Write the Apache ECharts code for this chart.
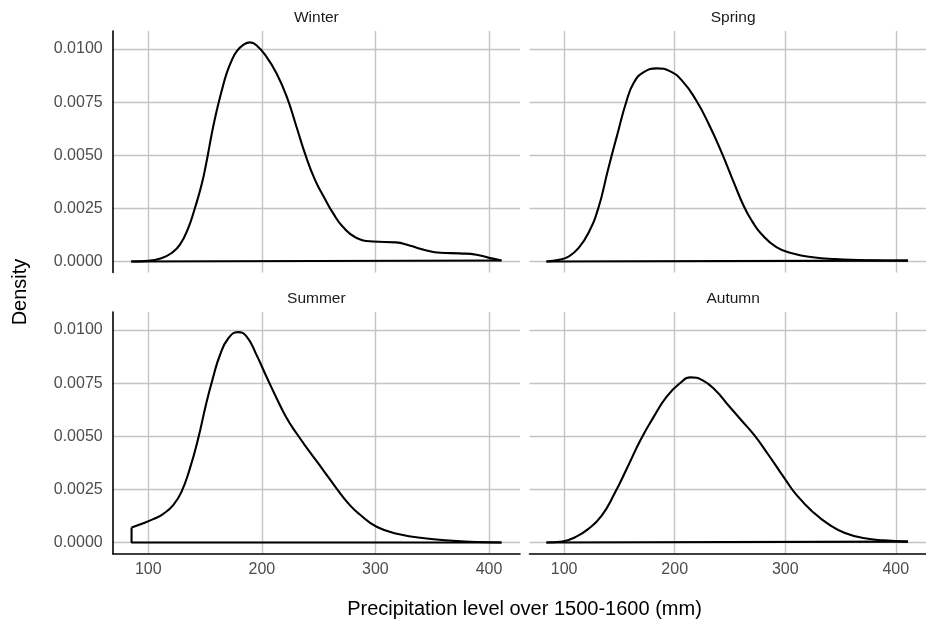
<!DOCTYPE html>
<html>
<head>
<meta charset="utf-8">
<script src="https://cdn.jsdelivr.net/npm/echarts@6/dist/echarts.min.js"></script>
<style>
html,body{margin:0;padding:0;background:#fff;}
#chart{width:926px;height:626px;}
</style>
</head>
<body>
<div id="chart"></div>
<script>
// ---- data ----
const seasons = ['Winter', 'Spring', 'Summer', 'Autumn'];

const winterX = [85, 100, 111.8, 120.6, 127.9, 135.2, 141.1, 147, 151.4, 155.8, 160.2, 164.6, 169, 173.4, 178, 184, 189.5, 195, 204, 213, 222, 230.5, 239, 247, 255, 263, 271.5, 283, 298, 318, 330, 345, 357, 374, 389, 400, 411];
const winterDensity = [0, 0.00003, 0.00016, 0.00040, 0.00079, 0.00157, 0.00252, 0.00362, 0.00472, 0.00598, 0.00708, 0.00802, 0.00885, 0.00945, 0.00990, 0.01020, 0.01031, 0.01019, 0.00964, 0.00885, 0.00775, 0.00634, 0.00492, 0.00382, 0.00300, 0.00225, 0.00162, 0.00112, 0.00094, 0.00090, 0.00075, 0.00052, 0.00041, 0.00038, 0.00032, 0.00017, 0.00005];

const springX = [84, 95.6, 104.4, 113, 122, 131, 139.7, 148.5, 156, 163, 172, 184, 195.6, 207, 219, 231, 242.6, 254, 263, 270, 278, 292, 307, 325, 345, 366, 390, 411];
const springDensity = [0, 0.00008, 0.00024, 0.00063, 0.00134, 0.00252, 0.00432, 0.00605, 0.00747, 0.00841, 0.00891, 0.00909, 0.00896, 0.00849, 0.00762, 0.00645, 0.00511, 0.00365, 0.00255, 0.00190, 0.00132, 0.00068, 0.00038, 0.00020, 0.00011, 0.00007, 0.00005, 0.00004];

const summerX = [85.3, 95.6, 104.4, 113, 122, 129.3, 136.7, 144, 151.3, 157, 163, 170.4, 179, 186.5, 195.3, 204, 213, 221.7, 230.5, 242, 254, 265.7, 277.5, 286, 301, 321, 345, 368, 389, 411];
const summerDensity = [0.00071, 0.00091, 0.00110, 0.00134, 0.00176, 0.00239, 0.00349, 0.00490, 0.00660, 0.00775, 0.00880, 0.00960, 0.00990, 0.00970, 0.00883, 0.00781, 0.00679, 0.00587, 0.00514, 0.00428, 0.00341, 0.00255, 0.00176, 0.00133, 0.00074, 0.00039, 0.00019, 0.00008, 0.00002, 0];

const autumnX = [84, 98.5, 110, 122, 134, 145.6, 157.4, 169, 181, 192.6, 204.4, 214.7, 225, 236.8, 248.5, 260.3, 272, 283.8, 295, 300, 310, 324.7, 339.4, 354, 372, 389, 411];
const autumnDensity = [0, 0.00005, 0.00025, 0.00064, 0.00127, 0.00230, 0.00355, 0.00481, 0.00591, 0.00685, 0.00748, 0.00777, 0.00764, 0.00717, 0.00646, 0.00575, 0.00505, 0.00420, 0.00335, 0.00297, 0.00225, 0.00145, 0.00085, 0.00045, 0.00020, 0.00010, 0.00004];

const xTicks = [100, 200, 300, 400];
const yTicks = [0, 0.0025, 0.005, 0.0075, 0.01];
const xTitle = 'Precipitation level over 1500-1600 (mm)';
const yTitle = 'Density';

// ---- layout ----
const X_MIN = 68.7, X_MAX = 427.3;
const Y_MIN = -0.000518, Y_MAX = 0.010847;
const FONT = "'Liberation Sans', Arial, Helvetica, sans-serif";
const panelLeft = [112.7, 529.5, 112.7, 529.5];
const panelTop = [31, 31, 312, 312];
const PW = 407.3, PH = 241.5;
const gridColor = '#c4c4c4';

const seriesX = [winterX, springX, summerX, autumnX];
const seriesY = [winterDensity, springDensity, summerDensity, autumnDensity];

const grids = [], xAxes = [], yAxes = [], series = [], graphics = [];
for (let i = 0; i < 4; i++) {
  const isLeft = i % 2 === 0, isBottom = i >= 2;
  grids.push({ left: panelLeft[i], top: panelTop[i], width: PW, height: PH, containLabel: false });
  xAxes.push({
    type: 'value', gridIndex: i, min: X_MIN, max: X_MAX,
    axisLine: { show: isBottom, onZero: false, lineStyle: { color: '#000', width: 1.6 } },
    axisTick: { show: false, customValues: xTicks },
    axisLabel: { show: isBottom, customValues: xTicks, color: '#4d4d4d', fontSize: 16, fontFamily: FONT, margin: 8 },
    splitLine: { show: true, lineStyle: { color: gridColor, width: 1.4 } }
  });
  yAxes.push({
    type: 'value', gridIndex: i, min: Y_MIN, max: Y_MAX,
    axisLine: { show: isLeft, onZero: false, lineStyle: { color: '#000', width: 1.6 } },
    axisTick: { show: false, customValues: yTicks },
    axisLabel: { show: isLeft, customValues: yTicks, color: '#4d4d4d', fontSize: 16, fontFamily: FONT, margin: 10,
      formatter: v => v.toFixed(4) },
    splitLine: { show: true, lineStyle: { color: gridColor, width: 1.4 } }
  });
  const xs = seriesX[i], ys = seriesY[i];
  const curve = xs.map((x, k) => [x, ys[k]]);
  const n = xs.length - 1;
  series.push({
    type: 'line', xAxisIndex: i, yAxisIndex: i, data: curve, smooth: 0.5,
    symbol: 'none', lineStyle: { color: '#000', width: 2.1 }, z: 3, silent: true
  });
  series.push({
    type: 'line', xAxisIndex: i, yAxisIndex: i,
    data: [[xs[n], ys[n]], [xs[n], 0], [xs[0], 0], [xs[0], ys[0]]],
    symbol: 'none', lineStyle: { color: '#000', width: 2.1 }, z: 3, silent: true
  });
  graphics.push({
    type: 'text', x: panelLeft[i] + PW / 2, y: panelTop[i] - 13.5,
    style: { text: seasons[i], fill: '#1a1a1a', font: '15.5px ' + FONT, textAlign: 'center', textVerticalAlign: 'middle' }
  });
}
graphics.push({
  type: 'text', x: 524.5, y: 609,
  style: { text: xTitle, fill: '#000', font: '20px ' + FONT, textAlign: 'center', textVerticalAlign: 'middle' }
});
graphics.push({
  type: 'text', x: 20, y: 292, rotation: Math.PI / 2,
  style: { text: yTitle, fill: '#000', font: '20px ' + FONT, textAlign: 'center', textVerticalAlign: 'middle' }
});

const chart = echarts.init(document.getElementById('chart'), null, { renderer: 'canvas' });
chart.setOption({
  animation: false,
  backgroundColor: '#fff',
  grid: grids, xAxis: xAxes, yAxis: yAxes, series: series, graphic: graphics
});
</script>
</body>
</html>
